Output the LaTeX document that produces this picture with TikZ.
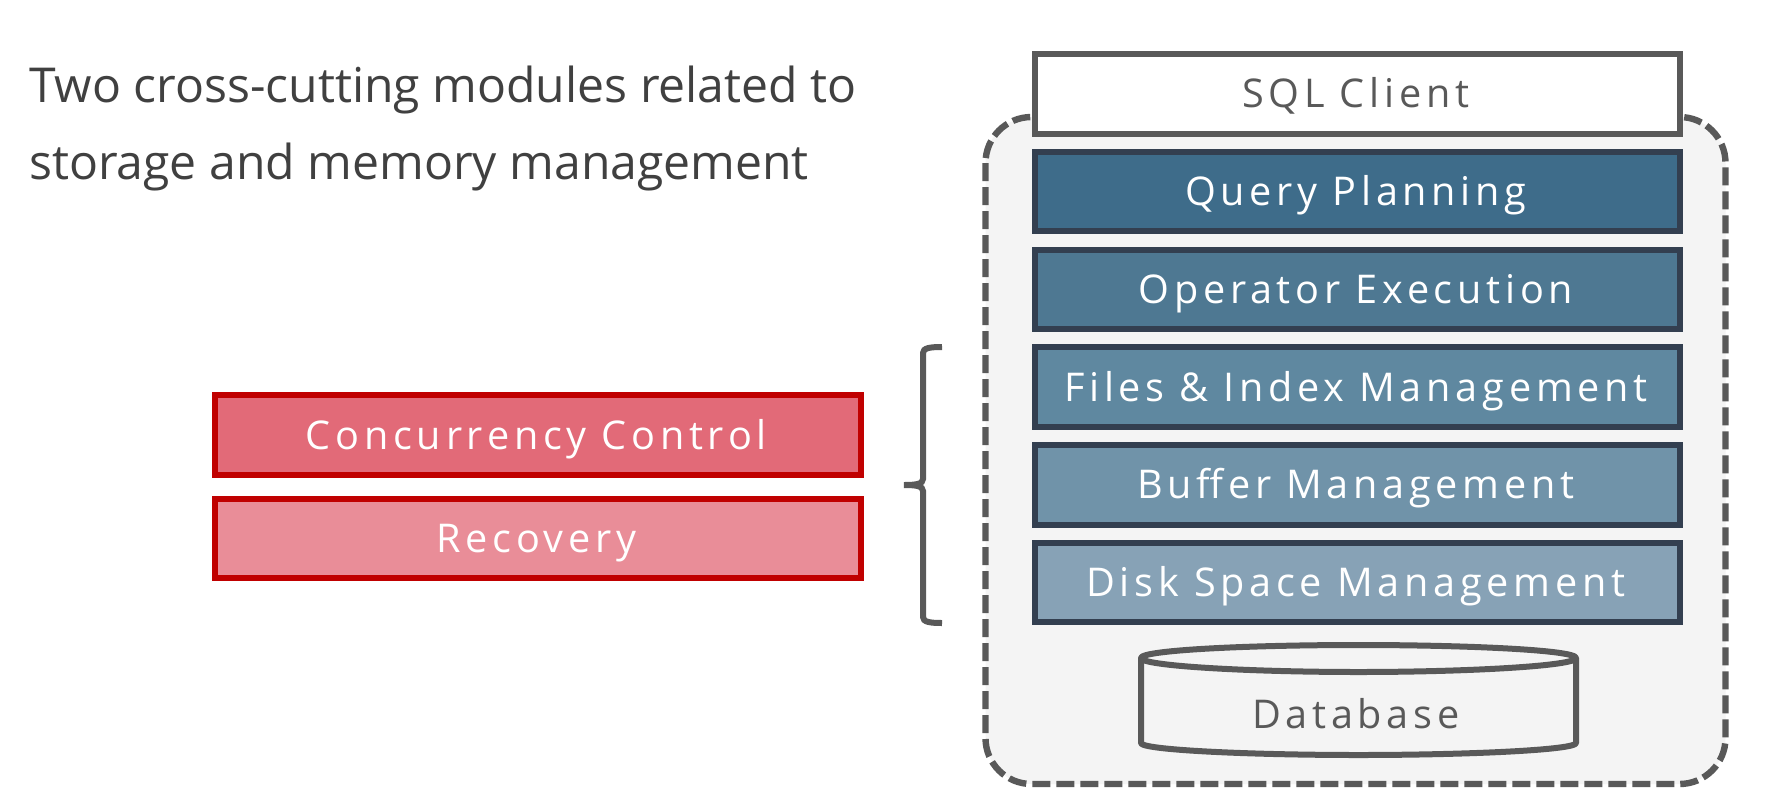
\documentclass[tikz,border=0pt]{standalone}
\usepackage{fontspec}
\setmainfont{Open Sans}
\definecolor{greyline}{HTML}{595959}
\definecolor{panel}{HTML}{F4F4F4}
\definecolor{navy}{HTML}{333F50}
\definecolor{crimson}{HTML}{C00000}
\definecolor{titlecol}{HTML}{404040}
\newfontfamily\spaced[LetterSpace=12]{Open Sans}
\tikzset{
  boxlabel/.style={inner sep=0pt,text height=34pt,text depth=6pt,font=\spaced\fontsize{39.6}{46}\selectfont},
  layerbox/.style={boxlabel,draw=navy,line width=6pt,minimum width=645pt,minimum height=79.4pt,text=white},
  redbox/.style={boxlabel,draw=crimson,line width=6pt,minimum width=646pt,minimum height=79.4pt,text=white},
  titletext/.style={anchor=base west,inner sep=0pt,text=titlecol,font=\fontsize{48.1}{56}\selectfont}
}
\begin{document}
\begin{tikzpicture}[x=1pt,y=-1pt]
\useasboundingbox (0,0) rectangle (1780,804);
\fill[white] (0,0) rectangle (1780,804);
\draw[greyline,fill=panel,line width=6.4pt,dash pattern=on 18pt off 6pt,rounded corners=46pt] (985.5,117) rectangle (1725.5,784);
\node[layerbox,draw=greyline,fill=white,text=greyline] (sql) at (1357.5,93.9) {SQL Client\kern3.4pt};
\node[layerbox,fill={rgb,255:red,62;green,108;blue,138}] (qp) at (1357.5,191.5) {Query Planning\kern3.4pt};
\node[layerbox,fill={rgb,255:red,78;green,120;blue,146}] (oe) at (1357.5,289.25) {Operator Execution\kern3.4pt};
\node[layerbox,fill={rgb,255:red,95;green,136;blue,160}] (fi) at (1357.5,387) {Files \& Index Management\kern3.4pt};
\node[layerbox,fill={rgb,255:red,112;green,147;blue,169}] (bm) at (1357.5,484.8) {Buffer Management\kern3.4pt};
\node[layerbox,fill={rgb,255:red,135;green,162;blue,182}] (ds) at (1357.5,582.5) {Disk Space Management\kern3.4pt};
\node[redbox,fill={rgb,255:red,226;green,106;blue,120}] (cc) at (538,435) {Concurrency Control\kern3.4pt};
\node[redbox,fill={rgb,255:red,233;green,141;blue,152}] (rc) at (538,538.5) {Recovery\kern3.4pt};
\draw[greyline,line width=6pt,line join=round] (1141,658) .. controls (1141,650) and (1250,645) .. (1358.5,645) .. controls (1467,645) and (1576,650) .. (1576,658)
  -- (1576,743) .. controls (1576,750) and (1467,755) .. (1358.5,755) .. controls (1250,755) and (1141,750) .. (1141,743) -- cycle;
\draw[greyline,line width=6pt] (1141,658) .. controls (1141,666) and (1250,672) .. (1358.5,672) .. controls (1467,672) and (1576,666) .. (1576,658);
\node[boxlabel,text=greyline] (db) at (1357.5,714) {Database\kern3.4pt};
\draw[greyline,line width=6pt] (942,347) .. controls (930,347) and (923,348) .. (923,353) -- (923,479) .. controls (923,484) and (916,485) .. (904,485) .. controls (916,485) and (923,486) .. (923,491) -- (923,617) .. controls (923,622) and (930,623) .. (942,623);
\node[titletext] (t1) at (29,102) {Two cross-cutting modules related to};
\node[titletext] (t2) at (29,179) {storage and memory management};
\end{tikzpicture}
\end{document}
